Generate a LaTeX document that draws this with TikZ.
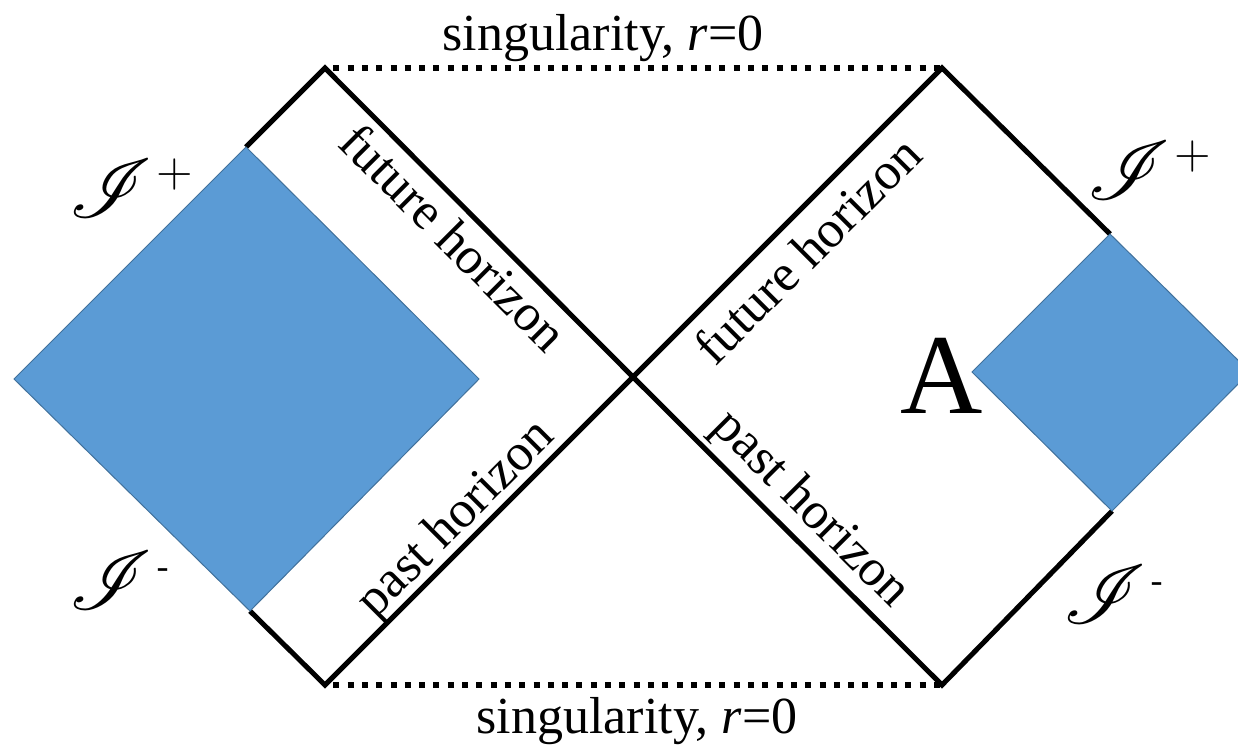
\documentclass[tikz,border=0pt]{standalone}
\usepackage{fontspec}
\setmainfont{Liberation Serif}
\usepackage{mathrsfs}
\definecolor{blu}{HTML}{5B9BD5}
\definecolor{bluedge}{HTML}{41719C}
\newcommand{\scrisup}[1]{$\mathscr{I}^{\kern1pt #1}$}
\newcommand{\thinplus}{\hbox{\fontsize{12}{12}\selectfont$+$}}
\newcommand{\thindash}{\hbox{\fontsize{9}{9}\selectfont -}}
\begin{document}
\begin{tikzpicture}[x=1pt,y=-1pt,
  bound/.style={line width=5pt, line join=miter},
  sing/.style={line width=6pt, dash pattern=on 6pt off 8.3pt, dash phase=6pt},
  region/.style={fill=blu, draw=bluedge, line width=1pt},
  lab/.style={font=\fontsize{52}{60}\selectfont, inner sep=0pt},
  scri/.style={font=\fontsize{20}{24}\selectfont, scale=4, inner sep=0pt},
  big/.style={font=\fontsize{114}{120}\selectfont, inner sep=0pt}]
\useasboundingbox (0,0) rectangle (1238,748);
\clip (0,0) rectangle (1238,748);
\coordinate (TL) at (325,68);
\coordinate (TR) at (942,68);
\coordinate (BL) at (325,685);
\coordinate (BR) at (942,685);
\coordinate (C) at (633,377);
% left shaded region vertices
\coordinate (Lt) at (246,147);
\coordinate (Lr) at (479,379);
\coordinate (Lb) at (250,611);
\coordinate (Ll) at (14,379);
% right shaded region vertices
\coordinate (Rt) at (1110,234);
\coordinate (Rr) at (1250,372);
\coordinate (Rb) at (1112,511);
\coordinate (Rl) at (972,372);
% boundaries
\draw[bound] (Lt) -- (TL) -- (C) -- (BL) -- (Lb);
\draw[bound] (Rt) -- (TR) -- (C) -- (BR) -- (Rb);
\draw[sing] (TL) -- (TR);
\draw[sing] (BL) -- (BR);
% shaded regions
\draw[region] (Lt) -- (Lr) -- (Lb) -- (Ll) -- cycle;
\draw[region] (Rt) -- (Rr) -- (Rb) -- (Rl) -- cycle;
% labels
\node[lab, anchor=base] (s1) at (603,50) {singularity, \textit{r}=0};
\node[lab, anchor=base] (s2) at (637,733) {singularity, \textit{r}=0};
\node[lab, rotate=-45] (fh1) at (454,237) {future horizon};
\node[lab, rotate=45] (fh2) at (807,250) {future horizon};
\node[lab, rotate=45] (ph1) at (457,520) {past horizon};
\node[lab, rotate=-45] (ph2) at (810,510) {past horizon};
\node[scri] (ip1) at (132,188) {\scrisup{\thinplus}};
\node[scri] (im1) at (120,580) {\scrisup{\thindash}};
\node[scri] (ip2) at (1150,170) {\scrisup{\thinplus}};
\node[scri] (im2) at (1114,594) {\scrisup{\thindash}};
\node[big] (A) at (942,376) {A};
\end{tikzpicture}
\end{document}
